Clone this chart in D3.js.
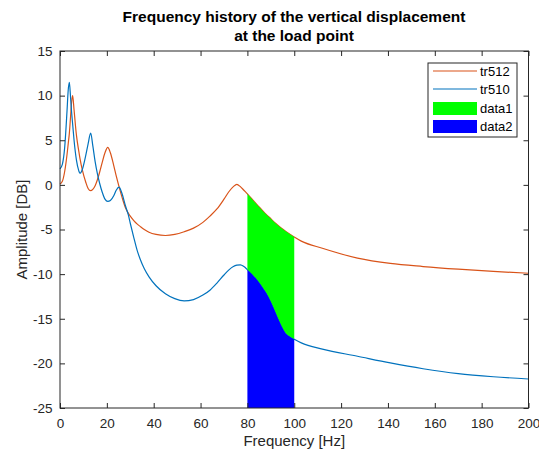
<!DOCTYPE html>
<html>
<head>
<meta charset="utf-8">
<script src="https://cdn.jsdelivr.net/npm/d3@7"></script>
<style>
    body { margin: 0; background: #fff; }
    svg { display: block; font-family: "Liberation Sans", Arial, sans-serif; }
</style>
</head>
<body>
<svg id="chart" width="539" height="454"></svg>
<script>
// frequency grid [Hz], shared by both series
const FREQ = [0, 1, 2, 3, 3.5, 4, 4.5, 5, 5.4, 6, 7, 8, 8.5, 9.5, 11, 12, 13.1, 14, 15, 16, 17, 18, 19.2, 20.4,
    21.5, 23, 24, 25.2, 26.5, 28, 29.2, 30, 31.5, 33, 34.2, 36, 38, 41, 45, 49, 53, 57, 61, 64, 67, 70, 72, 74,
    75.5, 77, 78.5, 80, 82, 84, 86, 88, 90, 92, 94, 96, 98, 100, 103, 112, 127, 141, 155, 170, 185, 200];

// amplitude [DB]
const TR512 = [0.1, 0.4, 1.5, 3.4, 4.6, 5.8, 7.6, 9.4, 10.0, 8.4, 5.6, 3.8, 3.0, 1.7, 0.3, -0.4, -0.65, -0.5, -0.1,
    0.6, 1.5, 2.5, 3.6, 4.2, 3.6, 2.1, 1.0, -0.2, -1.4, -2.6, -3.2, -3.5, -4.0, -4.4, -4.65, -5.0, -5.3, -5.55,
    -5.67, -5.55, -5.25, -4.85, -4.2, -3.5, -2.7, -1.6, -0.8, -0.2, 0.05, -0.2, -0.6, -1.0, -1.6, -2.2, -2.75,
    -3.3, -3.8, -4.3, -4.75, -5.15, -5.5, -5.85, -6.3, -7.1, -8.2, -8.8, -9.15, -9.45, -9.7, -9.9];
const TR510 = [1.8, 2.3, 4.2, 8.3, 10.6, 11.5, 9.8, 8.0, 6.8, 5.0, 2.8, 1.6, 1.3, 1.7, 3.3, 4.6, 5.8, 4.4, 2.6,
    1.2, 0.1, -0.8, -1.6, -1.85, -1.75, -1.2, -0.6, -0.25, -1.0, -2.4, -3.4, -4.3, -5.9, -7.4, -8.3, -9.4,
    -10.3, -11.3, -12.2, -12.75, -13.0, -12.85, -12.35, -11.8, -11.0, -10.1, -9.55, -9.15, -9.0, -8.96, -9.15,
    -9.5, -10.0, -10.6, -11.3, -12.1, -13.1, -14.3, -15.5, -16.5, -17.0, -17.3, -17.7, -18.4, -19.2, -19.95,
    -20.6, -21.15, -21.5, -21.75];

const BAND = [80, 100];
const X_TICKS = d3.range(0, 201, 20);
const Y_TICKS = d3.range(-25, 16, 5);
const LEGEND = ['tr512', 'tr510', 'data1', 'data2'];

const drawChart = (selector) => {
    const width = 539, height = 454;
    const margin = { top: 51, right: 10.5, bottom: 46, left: 60 };
    const svg = d3.select(selector);

    const x = d3.scaleLinear().domain([0, 200]).range([margin.left, width - margin.right]);
    const y = d3.scaleLinear().domain([-25, 15]).range([height - margin.bottom, margin.top]);

    const data = FREQ.map((f, i) => ({ f: f, a: TR512[i], b: TR510[i] }));
    const band = data.filter((d) => d.f >= BAND[0] && d.f <= BAND[1]);

    const line = (key) => d3.line()
        .x((d) => x(d.f))
        .y((d) => y(d[key]))
        .curve(d3.curveMonotoneX);

    svg.append('path')
        .datum(data)
        .attr('fill', 'none')
        .attr('stroke', '#D95319')
        .attr('stroke-width', 1.2)
        .attr('d', line('a'));
    svg.append('path')
        .datum(data)
        .attr('fill', 'none')
        .attr('stroke', '#0072BD')
        .attr('stroke-width', 1.2)
        .attr('d', line('b'));

    // filled bands between 80 and 100 Hz
    svg.append('path')
        .datum(band)
        .attr('fill', '#00ff00')
        .attr('d', d3.area()
            .x((d) => x(d.f))
            .y0((d) => y(d.b))
            .y1((d) => y(d.a))
            .curve(d3.curveMonotoneX));
    svg.append('path')
        .datum(band)
        .attr('fill', '#0000ff')
        .attr('d', d3.area()
            .x((d) => x(d.f))
            .y0(y(-25))
            .y1((d) => y(d.b))
            .curve(d3.curveMonotoneX));

    // axes, MATLAB style with inward ticks on all sides
    const fmt = (d) => String(d);
    const style = (g) => {
        g.select('.domain').remove();
        g.selectAll('line').attr('stroke', '#262626');
        g.selectAll('text').attr('fill', '#262626').attr('font-size', 13.5);
    };
    svg.append('g')
        .attr('transform', `translate(0,${height - margin.bottom})`)
        .call(d3.axisBottom(x).tickValues(X_TICKS).tickFormat(fmt).tickSizeInner(-5).tickSizeOuter(0).tickPadding(10))
        .call(style);
    svg.append('g')
        .attr('transform', `translate(0,${margin.top})`)
        .call(d3.axisTop(x).tickValues(X_TICKS).tickSizeInner(-5).tickSizeOuter(0).tickFormat(''))
        .call(style);
    svg.append('g')
        .attr('transform', `translate(${margin.left},0)`)
        .call(d3.axisLeft(y).tickValues(Y_TICKS).tickFormat(fmt).tickSizeInner(-5).tickSizeOuter(0).tickPadding(7.5))
        .call(style);
    svg.append('g')
        .attr('transform', `translate(${width - margin.right},0)`)
        .call(d3.axisRight(y).tickValues(Y_TICKS).tickSizeInner(-5).tickSizeOuter(0).tickFormat(''))
        .call(style);
    svg.append('rect')
        .attr('x', margin.left)
        .attr('y', margin.top)
        .attr('width', width - margin.left - margin.right)
        .attr('height', height - margin.top - margin.bottom)
        .attr('fill', 'none')
        .attr('stroke', '#262626')
        .attr('stroke-width', 1);

    // labels and title
    svg.append('text')
        .attr('x', (margin.left + width - margin.right) / 2)
        .attr('y', 446)
        .attr('text-anchor', 'middle')
        .attr('font-size', 15)
        .attr('fill', '#262626')
        .text('Frequency [Hz]');
    svg.append('text')
        .attr('transform', `translate(27,${(margin.top + height - margin.bottom) / 2}) rotate(-90)`)
        .attr('text-anchor', 'middle')
        .attr('font-size', 15)
        .attr('fill', '#262626')
        .text('Amplitude [DB]');
    const title = svg.append('text')
        .attr('text-anchor', 'middle')
        .attr('font-size', 15.5)
        .attr('font-weight', 'bold')
        .attr('fill', '#000');
    title.append('tspan').attr('x', 294).attr('y', 22).text('Frequency history of the vertical displacement');
    title.append('tspan').attr('x', 294).attr('y', 41).text('at the load point');

    // legend
    const lg = svg.append('g').attr('transform', 'translate(428,63)');
    lg.append('rect')
        .attr('width', 89)
        .attr('height', 74)
        .attr('fill', '#fff')
        .attr('stroke', '#262626')
        .attr('stroke-width', 1);
    const colors = ['#D95319', '#0072BD', '#00ff00', '#0000ff'];
    const rowY = [8, 26, 45.5, 63.5];
    LEGEND.forEach((name, i) => {
        if (i < 2) {
            lg.append('line')
                .attr('x1', 5).attr('x2', 49)
                .attr('y1', rowY[i]).attr('y2', rowY[i])
                .attr('stroke', colors[i])
                .attr('stroke-width', 1.2);
        } else {
            lg.append('rect')
                .attr('x', 5).attr('y', rowY[i] - 6.5)
                .attr('width', 44).attr('height', 13)
                .attr('fill', colors[i]);
        }
        lg.append('text')
            .attr('x', 52)
            .attr('y', rowY[i])
            .attr('dy', '0.35em')
            .attr('font-size', 13)
            .attr('fill', '#000')
            .text(name);
    });
};

drawChart('#chart');
</script>
</body>
</html>
